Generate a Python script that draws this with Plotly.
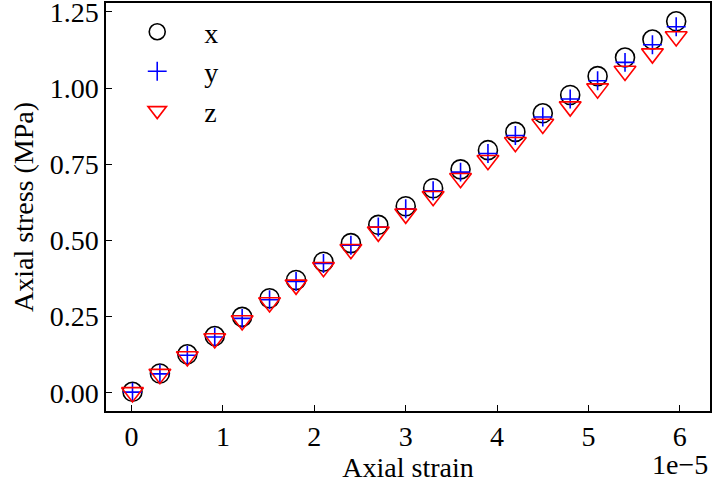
import plotly.graph_objects as go

strain = [0.01, 0.31, 0.61, 0.91, 1.21, 1.51, 1.80, 2.10, 2.40, 2.70, 3.00,
          3.30, 3.60, 3.90, 4.20, 4.50, 4.80, 5.10, 5.40, 5.70, 5.96]
stress_x = [0.003, 0.063, 0.126, 0.186, 0.249, 0.310, 0.370, 0.430, 0.491, 0.551, 0.612,
            0.671, 0.733, 0.796, 0.856, 0.917, 0.977, 1.039, 1.100, 1.159, 1.219]
stress_y = [0.002, 0.062, 0.123, 0.183, 0.244, 0.305, 0.365, 0.424, 0.484, 0.544, 0.604,
            0.663, 0.724, 0.785, 0.844, 0.905, 0.964, 1.024, 1.084, 1.142, 1.201]
stress_z = [0.001, 0.061, 0.119, 0.178, 0.237, 0.296, 0.354, 0.412, 0.471, 0.528, 0.587,
            0.645, 0.704, 0.763, 0.822, 0.882, 0.939, 0.998, 1.056, 1.113, 1.169]

x_ticks = [0, 1, 2, 3, 4, 5, 6]
y_ticks = [0.00, 0.25, 0.50, 0.75, 1.00, 1.25]

FONT = "Liberation Serif"
FS = 28

fig = go.Figure()
fig.add_trace(go.Scatter(x=strain, y=stress_x, mode="markers", name="x",
                         marker=dict(symbol="circle-open", size=19, color="black",
                                     line=dict(width=1.6, color="black"))))
fig.add_trace(go.Scatter(x=strain, y=stress_y, mode="markers", name="y",
                         marker=dict(symbol="cross-thin-open", size=13.5, color="blue",
                                     line=dict(width=1.6, color="blue"))))
fig.add_trace(go.Scatter(x=strain, y=stress_z, mode="markers", name="z",
                         marker=dict(symbol="triangle-down-open", size=19, color="red",
                                     line=dict(width=1.6, color="red"))))

axis_common = dict(showgrid=False, zeroline=False, showline=True, linecolor="black",
                   linewidth=1.5, mirror=True, ticks="inside", ticklen=6, tickwidth=1.2,
                   tickcolor="black", automargin=False, ticklabeloverflow="allow",
                   tickfont=dict(family=FONT, size=FS, color="black"))

fig.update_layout(
    width=712, height=483,
    margin=dict(l=106, r=2, t=3, b=72),
    paper_bgcolor="white", plot_bgcolor="white",
    font=dict(family=FONT, size=FS, color="black"),
    xaxis=dict(range=[-0.28, 6.33], tickvals=x_ticks, ticktext=[str(t) for t in x_ticks],
               title=dict(text="Axial strain", font=dict(family=FONT, size=FS), standoff=2),
               **axis_common),
    yaxis=dict(range=[-0.060, 1.279], tickvals=y_ticks, ticktext=[f"{t:.2f}" for t in y_ticks],
               title=dict(text="Axial stress (MPa)", font=dict(family=FONT, size=FS), standoff=8),
               **axis_common),
    legend=dict(x=0.007, y=0.99, xanchor="left", yanchor="top", bgcolor="rgba(0,0,0,0)",
                itemwidth=84, tracegroupgap=0, traceorder="normal",
                font=dict(family=FONT, size=FS, color="black")),
    showlegend=True,
)
fig.add_annotation(text="1e\u22125", xref="paper", yref="paper", x=1.0, y=0, xanchor="right",
                   yanchor="top", yshift=-36, showarrow=False,
                   font=dict(family=FONT, size=FS, color="black"))

fig.write_html("out.html", config={"displayModeBar": False},
               post_script="document.body.style.margin='0';document.body.style.overflow='hidden';")
